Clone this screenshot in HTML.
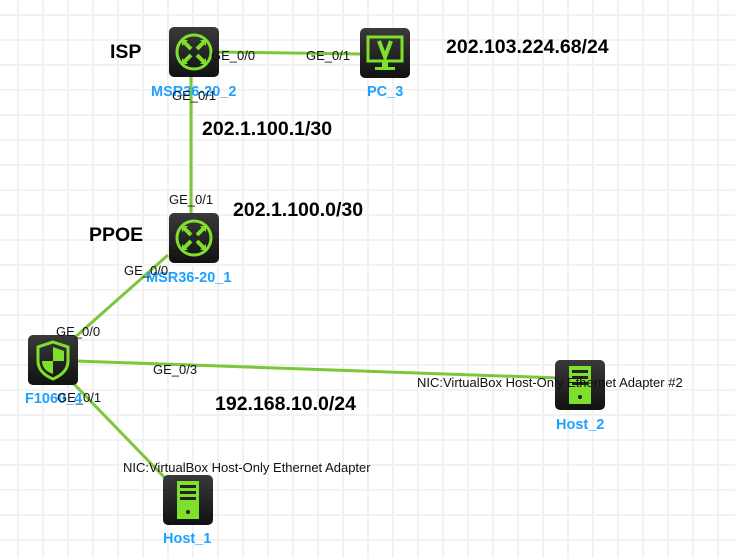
<!DOCTYPE html>
<html><head><meta charset="utf-8"><style>
body{margin:0;width:735px;height:558px;overflow:hidden;background:#fff;font-family:"Liberation Sans",Arial,sans-serif;}
svg{position:absolute;left:0;top:0}
.g{font-size:13px;fill:#111}
.b{font-size:19.5px;font-weight:bold;fill:#000}
.n{font-size:14.5px;font-weight:bold;fill:#1ea0ff}
</style></head><body>
<svg width="735" height="558" xmlns="http://www.w3.org/2000/svg">
<defs>
<pattern id="grid" x="17" y="14" width="25" height="25" patternUnits="userSpaceOnUse">
<rect x="0" y="0" width="2" height="25" fill="#f2f2f2"/><rect x="0" y="0" width="25" height="2" fill="#f2f2f2"/>
</pattern>
<linearGradient id="dk" x1="0" y1="0" x2="0" y2="1"><stop offset="0" stop-color="#3a3a3a"/><stop offset="1" stop-color="#111"/></linearGradient>
<g id="router"><rect x="0" y="0" width="50" height="50" rx="5" fill="url(#dk)"/><circle cx="25" cy="25" r="17" fill="none" stroke="#7ee02a" stroke-width="3"/>
<path d="M15 15 L22 22 M35 15 L28 22 M15 35 L22 28 M35 35 L28 28" stroke="#7ee02a" stroke-width="4"/>
<path d="M13 13 h6 l-6 6z M37 13 h-6 l6 6z M13 37 h6 l-6 -6z M37 37 h-6 l6 -6z" fill="#7ee02a"/></g>
<g id="host"><rect x="0" y="0" width="50" height="50" rx="5" fill="url(#dk)"/><rect x="14" y="6" width="22" height="38" fill="#7ee02a"/>
<rect x="17" y="10" width="16" height="3" fill="#222"/><rect x="17" y="16" width="16" height="3" fill="#222"/><rect x="17" y="22" width="16" height="3" fill="#222"/><circle cx="25" cy="37" r="2" fill="#222"/></g>
</defs>
<rect width="735" height="558" fill="url(#grid)"/>
<g stroke="#7cc63a" stroke-width="3" fill="none">
<line x1="219" y1="52" x2="362" y2="54"/>
<line x1="191" y1="77" x2="191" y2="213"/>
<line x1="168" y1="255" x2="72" y2="340"/>
<line x1="76" y1="361" x2="560" y2="378"/>
<line x1="72" y1="382" x2="165" y2="478"/>
</g>
<use href="#router" x="169" y="27"/>
<use href="#router" x="169" y="213"/>
<g transform="translate(360,28)"><rect width="50" height="50" rx="5" fill="url(#dk)"/><rect x="8" y="9" width="34" height="24" fill="none" stroke="#7ee02a" stroke-width="3"/><path d="M19 13 L25 29 L31 13" stroke="#7ee02a" stroke-width="4" fill="none"/><rect x="22" y="34" width="6" height="5" fill="#7ee02a"/><rect x="15" y="39" width="20" height="3" fill="#7ee02a"/></g>
<g transform="translate(28,335)"><rect width="50" height="50" rx="5" fill="url(#dk)"/><path d="M25 7 L40 12 V26 C40 36 32 41 25 44 C18 41 10 36 10 26 V12Z" fill="none" stroke="#7ee02a" stroke-width="3"/><path d="M25 12 L36 16 V26 H25Z M25 26 V39 C19 37 14 33 14 26Z" fill="#7ee02a"/></g>
<use href="#host" x="555" y="360"/>
<use href="#host" x="163" y="475"/>
<text class="b" x="110" y="58">ISP</text>
<text class="b" x="446" y="53">202.103.224.68/24</text>
<text class="b" x="202" y="135">202.1.100.1/30</text>
<text class="b" x="233" y="216">202.1.100.0/30</text>
<text class="b" x="89" y="241">PPOE</text>
<text class="b" x="215" y="410">192.168.10.0/24</text>
<text class="n" x="151" y="96">MSR36-20_2</text>
<text class="n" x="367" y="96">PC_3</text>
<text class="n" x="146" y="282">MSR36-20_1</text>
<text class="n" x="25" y="403">F1060_4</text>
<text class="n" x="556" y="429">Host_2</text>
<text class="n" x="163" y="543">Host_1</text>
<text class="g" x="211" y="60">GE_0/0</text>
<text class="g" x="306" y="60">GE_0/1</text>
<text class="g" x="172" y="100">GE_0/1</text>
<text class="g" x="169" y="204">GE_0/1</text>
<text class="g" x="124" y="275">GE_0/0</text>
<text class="g" x="56" y="336">GE_0/0</text>
<text class="g" x="153" y="374">GE_0/3</text>
<text class="g" x="57" y="402">GE_0/1</text>
<text class="g" x="417" y="387">NIC:VirtualBox Host-Only Ethernet Adapter #2</text>
<text class="g" x="123" y="472">NIC:VirtualBox Host-Only Ethernet Adapter</text>
</svg>
</body></html>
